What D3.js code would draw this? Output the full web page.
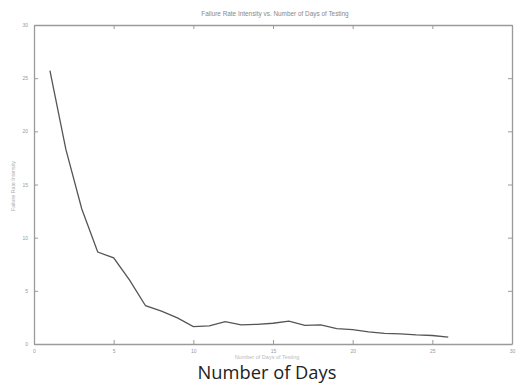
<!DOCTYPE html>
<html>
<head>
<meta charset="utf-8">
<script src="https://cdn.jsdelivr.net/npm/d3@7"></script>
<style>
  body { margin: 0; background: #fff; }
  svg { display: block; }
</style>
</head>
<body>
<svg width="519" height="385"></svg>
<script>
// days of testing and the failure rate intensity
var days = [1, 2, 3, 4, 5, 6, 7, 8, 9, 10, 11, 12, 13, 14, 15, 16, 17, 18, 19, 20, 21, 22, 23, 24, 25, 26];
var rate = [25.7, 18.3, 12.7, 8.65, 8.1, 6.0, 3.6, 3.1, 2.45, 1.63, 1.7, 2.1, 1.8, 1.85, 1.95, 2.15, 1.75, 1.8, 1.45, 1.35, 1.15, 1.0, 0.95, 0.85, 0.8, 0.65];
var xTicks = [0, 5, 10, 15, 20, 25, 30];
var yTicks = [0, 5, 10, 15, 20, 25, 30];

var svg = d3.select("svg");
// plot box edges (note: "top" is taken by window.top, so use other names)
var boxL = 34, boxR = 512, boxT = 25, boxB = 344;

var x = d3.scaleLinear().domain([0, 30]).range([boxL, boxR]);
var y = d3.scaleLinear().domain([0, 30]).range([boxB, boxT]);

var axisColor = "#9a9a9a";

// frame with inward ticks on all four sides (matlab look)
var g = svg.append("g").attr("class", "axes");
g.append("g").attr("transform", "translate(0," + boxB + ")")
  .call(d3.axisBottom(x).tickValues(xTicks).tickSizeInner(-4).tickSizeOuter(0).tickPadding(5));
g.append("g").attr("transform", "translate(0," + boxT + ")")
  .call(d3.axisTop(x).tickValues(xTicks).tickSizeInner(-4).tickSizeOuter(0).tickFormat(""));
g.append("g").attr("transform", "translate(" + boxL + ",0)")
  .call(d3.axisLeft(y).tickValues(yTicks).tickSizeInner(-4).tickSizeOuter(0).tickPadding(6));
g.append("g").attr("transform", "translate(" + boxR + ",0)")
  .call(d3.axisRight(y).tickValues(yTicks).tickSizeInner(-4).tickSizeOuter(0).tickFormat(""));

g.selectAll(".domain").attr("stroke", axisColor).attr("stroke-width", 1.3);
g.selectAll(".tick line").attr("stroke", axisColor).attr("stroke-width", 1);
g.selectAll(".tick text")
  .attr("fill", "#999")
  .attr("font-family", "Liberation Sans, Arial, sans-serif")
  .attr("font-size", 5);

// the curve
var line = d3.line()
  .x(function(d, i) { return x(days[i]); })
  .y(function(d) { return y(d); });

svg.append("path")
  .datum(rate)
  .attr("fill", "none")
  .attr("stroke", "#555")
  .attr("stroke-width", 1.3)
  .attr("d", line);

// tiny matlab labels
svg.append("text")
  .attr("x", 275).attr("y", 16)
  .attr("text-anchor", "middle")
  .attr("font-family", "Liberation Sans, Arial, sans-serif")
  .attr("font-size", 6.4)
  .attr("fill", "#888")
  .text("Failure Rate Intensity vs. Number of Days of Testing");

svg.append("text")
  .attr("transform", "translate(15,186) rotate(-90)")
  .attr("text-anchor", "middle")
  .attr("font-family", "Liberation Sans, Arial, sans-serif")
  .attr("font-size", 5.3)
  .attr("fill", "#aaa")
  .text("Failure Rate Intensity");

svg.append("text")
  .attr("x", 267).attr("y", 359)
  .attr("text-anchor", "middle")
  .attr("font-family", "Liberation Sans, Arial, sans-serif")
  .attr("font-size", 5.5)
  .attr("fill", "#bbb")
  .text("Number of Days of Testing");

// big caption under the picture
svg.append("text")
  .attr("x", 267).attr("y", 379)
  .attr("text-anchor", "middle")
  .attr("font-family", "Open Sans, sans-serif")
  .attr("font-size", 18.3)
  .attr("fill", "#222")
  .text("Number of Days");
</script>
</body>
</html>
